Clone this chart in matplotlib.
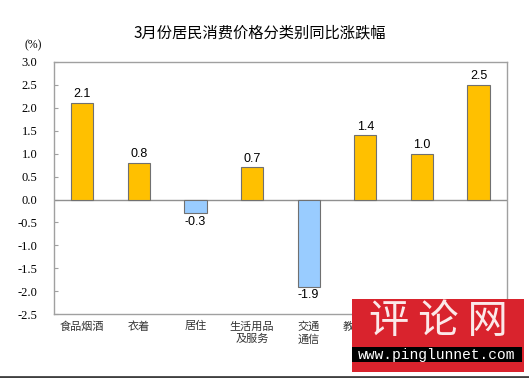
import matplotlib.pyplot as plt
from matplotlib.patches import Rectangle
from matplotlib.lines import Line2D

plt.rcParams['font.family'] = ['Noto Sans CJK SC', 'DejaVu Sans']

# Data
categories = ['食品烟酒', '衣着', '居住', '生活用品\n及服务', '交通\n通信',
              '教育文化\n娱乐', '医疗\n保健', '其他用品\n及服务']
values = [2.1, 0.8, -0.3, 0.7, -1.9, 1.4, 1.0, 2.5]
yticks = [-2.5, -2.0, -1.5, -1.0, -0.5, 0.0, 0.5, 1.0, 1.5, 2.0, 2.5, 3.0]

fig = plt.figure(figsize=(5.29, 3.78), dpi=100)
ax = fig.add_axes([0.102, 0.169, 0.856, 0.667])

x = range(len(values))
colors = ['#FFC000' if v >= 0 else '#99CCFF' for v in values]
ax.bar(x, values, width=0.39, color=colors, edgecolor='#707070', linewidth=0.8, zorder=3)

# value labels
for i, v in enumerate(values):
    off = 0.06 if v >= 0 else -0.06
    ax.text(i, v + off, f'{v:.1f}', ha='center', va='bottom' if v >= 0 else 'top',
            fontsize=9, family=['Liberation Sans', 'DejaVu Sans'], zorder=4)

ax.axhline(0, color='#909090', linewidth=1, zorder=2)

ax.set_xlim(-0.5, len(values) - 0.5)
ax.set_ylim(-2.5, 3.0)
ax.set_yticks(yticks)
ax.set_yticklabels([f'{t:.1f}' for t in yticks], family=['Liberation Serif', 'DejaVu Serif'], fontsize=9)
ax.tick_params(axis='y', direction='in', length=3, color='#A0A0A0', pad=12)
ax.tick_params(axis='x', length=0, pad=5)
ax.set_xticks(list(x))
ax.set_xticklabels(categories, fontsize=8, linespacing=1.3, color='#333333')
for s in ax.spines.values():
    s.set_color('#A0A0A0')
    s.set_linewidth(1)

fig.text(0.492, 0.913, '3月份居民消费价格分类别同比涨跌幅', ha='center', va='center', fontsize=11)
fig.text(0.062, 0.88, '(%)', ha='center', va='center', fontsize=8.5,
         family=['Liberation Serif', 'DejaVu Serif'])

# bottom frame line
fig.add_artist(Line2D([0, 1], [0.003, 0.003], color='#404040', linewidth=2, transform=fig.transFigure))

# watermark
W, H = 529, 378
fig.add_artist(Rectangle((352 / W, 1 - 372 / H), 172 / W, 73 / H, transform=fig.transFigure,
                         facecolor='#D9232D', edgecolor='none', zorder=10))
fig.add_artist(Rectangle((352 / W, 1 - 362 / H), 170 / W, 15 / H, transform=fig.transFigure,
                         facecolor='black', edgecolor='none', zorder=11))
fig.text(438 / W, 1 - 322 / H, '评 论 网', ha='center', va='center', fontsize=29,
         color='#FBE9E9', zorder=12)
fig.text(437 / W, 1 - 355 / H, 'www.pinglunnet.com', ha='center', va='center', fontsize=10.5,
         color='white', family=['Liberation Mono', 'DejaVu Sans Mono'], zorder=12)

fig.savefig('out.png', dpi=100)
